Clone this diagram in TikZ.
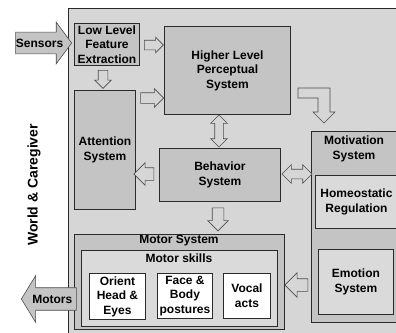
\documentclass[tikz,border=0pt]{standalone}
\usepackage{fontspec}
\setmainfont{Liberation Sans}
\usetikzlibrary{shapes.arrows}
\definecolor{bggray}{HTML}{D6D6D6}
\definecolor{boxgray}{HTML}{C4C4C4}
\definecolor{innergray}{HTML}{DADADA}
\definecolor{linegray}{HTML}{2A2A2A}
\newcommand{\boxfont}{\bfseries\fontsize{12}{14.5}\selectfont}
\tikzset{
  sysbox/.style={draw=linegray, line width=0.9pt, fill=boxgray, anchor=north west,
    inner sep=0pt, align=center, font=\boxfont},
  subbox/.style={sysbox, fill=innergray},
  skillbox/.style={sysbox, fill=white},
  boxtitle/.style={anchor=north, inner sep=0pt, align=center, font=\boxfont},
  blockarrow/.style={single arrow, draw=black!70, line width=0.6pt, fill=bggray,
    inner xsep=0pt, anchor=center},
  twoarrow/.style={double arrow, draw=black!70, line width=0.6pt, fill=bggray,
    inner xsep=0pt, anchor=center},
}
\begin{document}
\begin{tikzpicture}[x=1pt,y=-1pt]
\useasboundingbox (0,0) rectangle (396,332);
\clip (0,0) rectangle (396,332);
% world frame
\draw[draw=linegray, line width=0.9pt, fill=bggray] (68,8) rectangle (420,350);
\node[rotate=90, inner sep=0pt, font=\bfseries\fontsize{14}{16}\selectfont] (world) at (34,185) {World \& Caregiver};
% systems
\node[sysbox, minimum width=65, minimum height=42] (lowlevel) at (74,23) {Low Level\\Feature\\Extraction};
\node[sysbox, minimum width=126, minimum height=88] (higher) at (164,26) {Higher Level\\Perceptual\\System};
\node[sysbox, minimum width=61, minimum height=119] (attention) at (74,90) {Attention\\System};
\node[sysbox, minimum width=121, minimum height=53] (behavior) at (159,148) {Behavior\\System};
\node[sysbox, minimum width=88, minimum height=191] (motivation) at (311,131) {};
\node[boxtitle] (motivtitle) at (354,136) {Motivation\\System};
\node[subbox, minimum width=82, minimum height=53] (homeo) at (315,175) {Homeostatic\\Regulation};
\node[subbox, minimum width=75, minimum height=65] (emotion) at (318,249) {Emotion\\System};
\node[sysbox, minimum width=210, minimum height=95] (motor) at (74,234) {};
\node[boxtitle] (motortitle) at (179,235) {Motor System};
\node[subbox, minimum width=196, minimum height=76] (skills) at (81,250) {};
\node[boxtitle] (skillstitle) at (179,254) {Motor skills};
\node[skillbox, minimum width=56, minimum height=46] (orient) at (89,273) {Orient\\Head \&\\Eyes};
\node[skillbox, minimum width=55, minimum height=45] (face) at (157,273) {Face \&\\Body\\postures};
\node[skillbox, minimum width=47, minimum height=45] (vocal) at (223,273) {Vocal\\acts};
% block arrows
\node[blockarrow, fill=boxgray, minimum height=56, inner ysep=6.3pt, single arrow head extend=10pt,
  single arrow tip angle=107, anchor=tip, font=\boxfont] (sensors) at (72,43) {Sensors};
\node[blockarrow, fill=boxgray, minimum height=55, inner ysep=6.8pt, single arrow head extend=12pt,
  single arrow tip angle=117, shape border rotate=180, anchor=tip, font=\boxfont] (motors) at (21,299) {Motors};
\node[blockarrow, minimum height=19, inner ysep=4.5pt, single arrow head extend=3pt] (lowtohigh) at (151.5,45) {};
\node[blockarrow, minimum height=18, inner ysep=4.5pt, single arrow head extend=3.5pt, rotate=-90] (lowtoatt) at (103,77) {};
\node[blockarrow, minimum height=23, inner ysep=5pt, single arrow head extend=4pt] (atttohigh) at (149.5,98) {};
\node[blockarrow, minimum height=20, inner ysep=6pt, single arrow head extend=5pt, rotate=180] (behtoatt) at (147,174) {};
\node[twoarrow, minimum height=32, inner ysep=4pt, double arrow head extend=4pt, rotate=90] (highbeh) at (219,131) {};
\node[twoarrow, minimum height=30, inner ysep=4.5pt, double arrow head extend=4.5pt] (behmotiv) at (297,174) {};
\node[blockarrow, minimum height=23, inner ysep=5.5pt, single arrow head extend=4.5pt, rotate=-90] (behtomotor) at (218,216.5) {};
\node[blockarrow, minimum height=23, inner ysep=6pt, single arrow head extend=6pt, rotate=180] (emotoskills) at (299.5,285) {};
% bent arrow from perception to motivation
\draw[draw=black!70, line width=0.6pt, fill=bggray] (298,88) -- (330,88) -- (330,112) -- (335,112)
  -- (324,123) -- (313,112) -- (318,112) -- (318,98) -- (298,98) -- cycle;
\end{tikzpicture}
\end{document}
